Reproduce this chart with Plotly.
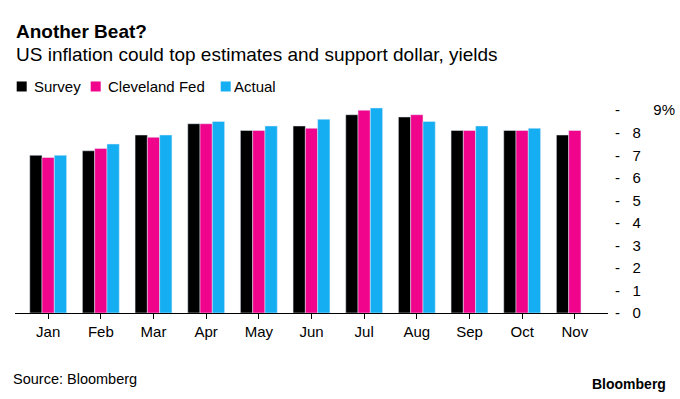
import plotly.graph_objects as go

months = ["Jan", "Feb", "Mar", "Apr", "May", "Jun", "Jul", "Aug", "Sep", "Oct", "Nov"]
survey = [7.0, 7.2, 7.9, 8.4, 8.1, 8.3, 8.8, 8.7, 8.1, 8.1, 7.9]
cleveland = [6.9, 7.3, 7.8, 8.4, 8.1, 8.2, 9.0, 8.8, 8.1, 8.1, 8.1]
actual = [7.0, 7.5, 7.9, 8.5, 8.3, 8.6, 9.1, 8.5, 8.3, 8.2, None]

series_names = ["Survey", "Cleveland Fed", "Actual"]
series_colors = ["#000000", "#f0048c", "#15aef2"]

ytick_vals = [0, 1, 2, 3, 4, 5, 6, 7, 8, 9]
ytick_text = ["-\u00a0\u00a0\u00a0" + str(v) for v in ytick_vals[:-1]] + ["-\u00a0\u00a0\u00a0\u00a0\u00a0\u00a0\u00a0\u00a09%"]

FONT = "Liberation Sans, Arial, sans-serif"

fig = go.Figure()
for name, vals, col in zip(series_names, [survey, cleveland, actual], series_colors):
    fig.add_trace(go.Bar(x=months, y=vals, name=name, marker_color=col))

T, B = 100, 399 - 312.7
def py(p):
    return (312.7 - p) / (312.7 - T)

L, R = 15, 680 - 608
def px(p):
    return (p - L) / (680 - L - R)

# manual legend (layout decoration)
leg_sq_x = [16.7, 90.7, 220.7]
leg_tx_x = [31.5, 105.5, 231.5]
shapes = []
annotations = []
for name, col, sx, tx in zip(series_names, series_colors, leg_sq_x, leg_tx_x):
    shapes.append(dict(type="rect", xref="paper", yref="paper", x0=px(sx), x1=px(sx + 10),
                       y0=py(91.5), y1=py(81.5), fillcolor=col, line=dict(width=0)))
    annotations.append(dict(text=name, xref="paper", yref="paper", x=px(tx), y=py(86.5),
                            xanchor="left", yanchor="middle", showarrow=False, font=dict(size=15)))

annotations += [
    dict(text="<b>Another Beat?</b>", xref="paper", yref="paper", x=px(14), y=py(32),
         xanchor="left", yanchor="middle", showarrow=False, font=dict(size=19)),
    dict(text="US inflation could top estimates and support dollar, yields", xref="paper", yref="paper",
         x=px(14), y=py(55), xanchor="left", yanchor="middle", showarrow=False, font=dict(size=19)),
    dict(text="Source: Bloomberg", xref="paper", yref="paper", x=px(11), y=py(379),
         xanchor="left", yanchor="middle", showarrow=False, font=dict(size=14.5)),
    dict(text="<b>Bloomberg</b>", xref="paper", yref="paper", x=px(668), y=py(384),
         xanchor="right", yanchor="middle", showarrow=False, font=dict(size=14)),
]

fig.update_layout(
    width=680, height=399,
    margin=dict(l=L, r=R, t=T, b=B, pad=0, autoexpand=False),
    paper_bgcolor="white", plot_bgcolor="white",
    font=dict(family=FONT, color="#000000", size=15),
    barmode="group", bargap=0.3, bargroupgap=0,
    showlegend=False,
    xaxis=dict(type="category", range=[-0.63, 10.63], showline=True, linecolor="#000000",
               linewidth=1, ticks="outside", ticklen=5, tickcolor="#000000", tickwidth=1,
               showgrid=False, zeroline=False, tickfont=dict(size=15)),
    yaxis=dict(side="right", range=[0, (312.7 - T) / 22.5], tickvals=ytick_vals, ticktext=ytick_text,
               showgrid=False, zeroline=False, ticks="", showline=False,
               ticklabelstandoff=6, tickfont=dict(size=15)),
    shapes=shapes,
    annotations=annotations,
)

fig.write_html("out.html", config={"displayModeBar": False},
               post_script="document.body.style.margin='0';document.body.style.overflow='hidden';")
